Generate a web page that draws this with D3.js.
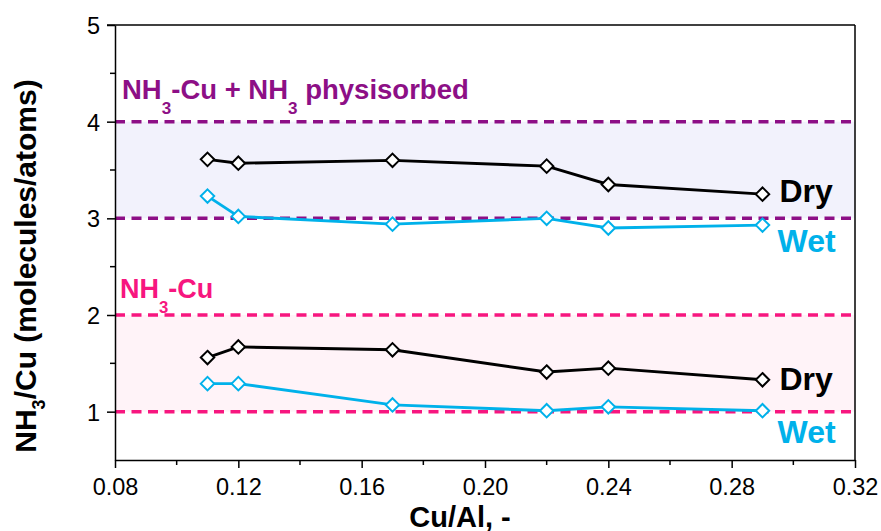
<!DOCTYPE html>
<html>
<head>
<meta charset="utf-8">
<script src="https://cdn.jsdelivr.net/npm/d3@7"></script>
<style>
  body { margin: 0; background: #fff; }
  text { font-family: "Liberation Sans", Arial, sans-serif; }
  .axis path, .axis line { stroke: #000; stroke-width: 1.5; }
  .axis text { font-size: 23.5px; fill: #000; }
</style>
</head>
<body>
<script>
var cuAl = [0.11, 0.12, 0.17, 0.22, 0.24, 0.29];
var dryHigh = [3.61, 3.57, 3.60, 3.54, 3.35, 3.25];
var wetHigh = [3.23, 3.02, 2.94, 3.00, 2.90, 2.93];
var dryLow = [1.56, 1.67, 1.64, 1.41, 1.45, 1.33];
var wetLow = [1.29, 1.29, 1.07, 1.01, 1.05, 1.01];
var xTicks = [0.08, 0.12, 0.16, 0.20, 0.24, 0.28, 0.32];
var yTicks = [1, 2, 3, 4, 5];
var bands = [
  {lo: 3, hi: 4, fill: "#f2f2fc", line: "#8d0f86"},
  {lo: 1, hi: 2, fill: "#fff3f8", line: "#f7167f"}
];

var margin = {top: 25, right: 26, bottom: 71, left: 115},
    width = 881 - margin.left - margin.right,
    height = 531 - margin.top - margin.bottom;

var svg = d3.select("body").append("svg")
  .attr("width", 881).attr("height", 531)
  .append("g")
  .attr("transform", "translate(" + margin.left + "," + margin.top + ")");

var x = d3.scaleLinear().domain([0.08, 0.32]).range([0, width]);
var y = d3.scaleLinear().domain([0.5, 5]).range([height, 0]);

// bands
bands.forEach(function(b){
  svg.append("rect")
    .attr("x", 0).attr("width", width)
    .attr("y", y(b.hi)).attr("height", y(b.lo) - y(b.hi))
    .attr("fill", b.fill);
  [b.lo, b.hi].forEach(function(v){
    svg.append("line")
      .attr("x1", 0).attr("x2", width)
      .attr("y1", y(v)).attr("y2", y(v))
      .attr("stroke", b.line).attr("stroke-width", 3.5)
      .attr("stroke-dasharray", "10,6.5");
  });
});

// frame
svg.append("line").attr("x1", -8).attr("x2", width).attr("y1", 0).attr("y2", 0)
  .attr("stroke", "#000").attr("stroke-width", 1.5);
svg.append("line").attr("x1", width).attr("x2", width).attr("y1", 0).attr("y2", height)
  .attr("stroke", "#000").attr("stroke-width", 1.5);

// axes
var xAxis = d3.axisBottom(x).tickValues(xTicks).tickFormat(d3.format(".2f")).tickSize(8).tickSizeOuter(0);
var yAxis = d3.axisLeft(y).tickValues(yTicks).tickFormat(d3.format("d")).tickSize(8).tickSizeOuter(0);

var gx = svg.append("g").attr("class", "axis")
  .attr("transform", "translate(0," + height + ")").call(xAxis);
gx.selectAll("text").attr("y", 35).attr("dy", null);
gx.selectAll(".minor").data(d3.range(0.10, 0.32, 0.04)).enter().append("line")
  .attr("x1", function(d){ return x(d); }).attr("x2", function(d){ return x(d); })
  .attr("y1", 0).attr("y2", 5).attr("stroke", "#000").attr("stroke-width", 1.5);

var gy = svg.append("g").attr("class", "axis").call(yAxis);
gy.selectAll("text").attr("x", -15).attr("dy", "0.36em");
gy.selectAll(".minor").data([1.5, 2.5, 3.5, 4.5]).enter().append("line")
  .attr("x1", 0).attr("x2", -5)
  .attr("y1", function(d){ return y(d); }).attr("y2", function(d){ return y(d); })
  .attr("stroke", "#000").attr("stroke-width", 1.5);

// series
var series = [
  {vals: dryHigh, color: "#000"},
  {vals: wetHigh, color: "#00b1ea"},
  {vals: dryLow, color: "#000"},
  {vals: wetLow, color: "#00b1ea"}
];
var line = d3.line()
  .x(function(d){ return x(d[0]); })
  .y(function(d){ return y(d[1]); });
var diamond = d3.symbol().type(d3.symbolDiamond2).size(115);

series.forEach(function(s){
  var pts = cuAl.map(function(c, i){ return [c, s.vals[i]]; });
  svg.append("path").datum(pts)
    .attr("d", line).attr("fill", "none")
    .attr("stroke", s.color).attr("stroke-width", 2.9);
  svg.selectAll(null).data(pts).enter().append("path")
    .attr("d", diamond)
    .attr("transform", function(d){ return "translate(" + x(d[0]) + "," + y(d[1]) + ")"; })
    .attr("fill", "#fff").attr("stroke", s.color).attr("stroke-width", 2);
});

// labels with subscripts: parts alternate normal, sub, normal ...
function label(tx, ty, color, size, parts){
  var t = svg.append("text").attr("x", tx).attr("y", ty)
    .attr("fill", color).attr("font-weight", "bold").attr("font-size", size);
  var shift = size * 0.55, down = false;
  parts.forEach(function(p){
    var ts = t.append("tspan").text(p.t);
    if (p.sub) {
      ts.attr("dy", shift).attr("font-size", size * 0.62);
      down = true;
    } else if (down) {
      ts.attr("dy", -shift);
      down = false;
    }
  });
  return t;
}
label(7, 74, "#8d0f86", 27.5, [{t:"NH"},{t:"3", sub:true},{t:"-Cu + NH"},{t:"3", sub:true},{t:" physisorbed"}]);
label(5, 273, "#f7167f", 27, [{t:"NH"},{t:"3", sub:true},{t:"-Cu"}]);

[[177, 227], [365, 418]].forEach(function(g){
  svg.append("text").attr("x", x(0.29) + 17).attr("y", g[0])
    .attr("font-weight", "bold").attr("font-size", 32).attr("fill", "#000").text("Dry");
  svg.append("text").attr("x", x(0.29) + 15).attr("y", g[1])
    .attr("font-weight", "bold").attr("font-size", 32).attr("fill", "#00b1ea").text("Wet");
});

// axis titles
svg.append("text")
  .attr("x", width / 2 - 25).attr("y", height + 67)
  .attr("text-anchor", "middle").attr("font-weight", "bold").attr("font-size", 29)
  .text("Cu/Al, -");

var yt = svg.append("text")
  .attr("transform", "translate(" + (-79) + "," + 241 + ") rotate(-90)")
  .attr("text-anchor", "middle").attr("font-weight", "bold").attr("font-size", 30);
yt.append("tspan").text("NH");
yt.append("tspan").attr("dy", 9).attr("font-size", 18).text("3");
yt.append("tspan").attr("dy", -9).text("/Cu (molecules/atoms)");
</script>
</body>
</html>
